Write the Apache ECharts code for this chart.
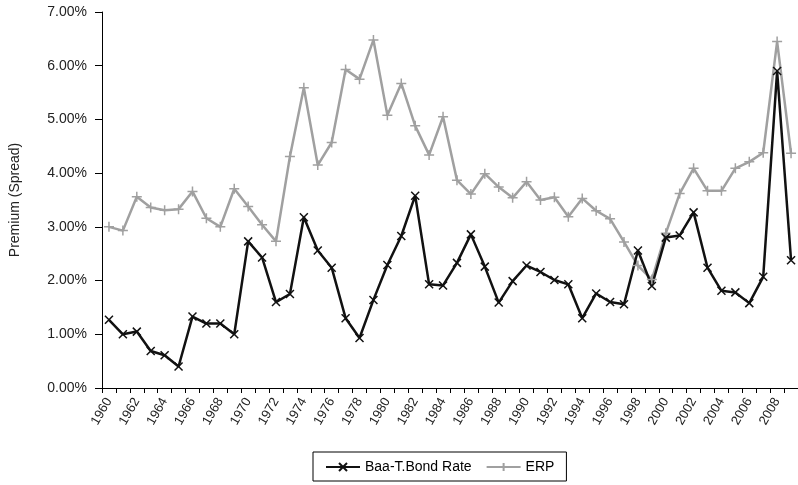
<!DOCTYPE html>
<html>
<head>
<meta charset="utf-8">
<script src="https://cdn.jsdelivr.net/npm/echarts@6/dist/echarts.min.js"></script>
<style>html,body{margin:0;padding:0;background:#fff;}#c{width:798px;height:485px;}</style>
</head>
<body>
<div id="c"></div>
<script>
const years = ['1960','1961','1962','1963','1964','1965','1966','1967','1968','1969',
'1970','1971','1972','1973','1974','1975','1976','1977','1978','1979',
'1980','1981','1982','1983','1984','1985','1986','1987','1988','1989',
'1990','1991','1992','1993','1994','1995','1996','1997','1998','1999',
'2000','2001','2002','2003','2004','2005','2006','2007','2008','2009'];
const baaSpread = [1.27,1.00,1.05,0.69,0.61,0.40,1.33,1.20,1.20,1.00,
2.73,2.43,1.60,1.75,3.18,2.56,2.24,1.30,0.93,1.64,
2.29,2.83,3.58,1.93,1.91,2.33,2.86,2.26,1.59,1.99,
2.28,2.16,2.01,1.93,1.30,1.76,1.60,1.56,2.56,1.90,
2.80,2.84,3.27,2.24,1.81,1.78,1.58,2.07,5.90,2.38];
const erp = [3.00,2.93,3.56,3.36,3.31,3.33,3.66,3.16,3.00,3.71,
3.38,3.04,2.73,4.31,5.59,4.15,4.57,5.93,5.75,6.48,
5.08,5.67,4.88,4.34,5.05,3.87,3.61,3.99,3.74,3.54,
3.84,3.50,3.55,3.19,3.53,3.30,3.15,2.72,2.28,2.02,
2.88,3.62,4.09,3.67,3.67,4.09,4.21,4.38,6.45,4.37];
const yTicks = {min: 0, max: 7, interval: 1};

const chart = echarts.init(document.getElementById('c'));
const xSym = 'path://M0,0L10,10M10,0L0,10';
const pSym = 'path://M5,0L5,10M0,5L10,5';
chart.setOption({
  animation: false,
  textStyle: {fontFamily: 'Liberation Sans, Arial, sans-serif'},
  grid: {left: 94, top: 12, width: 705, height: 376, containLabel: false},
  xAxis: {
    type: 'category', data: years, boundaryGap: true,
    axisLine: {lineStyle: {color: '#000', width: 1}},
    axisTick: {show: true, interval: 0, length: 5, lineStyle: {color: '#000'}},
    axisLabel: {interval: 1, rotate: 60, fontSize: 13, color: '#222', margin: 11}
  },
  yAxis: {
    type: 'value', min: yTicks.min, max: yTicks.max, interval: yTicks.interval,
    name: 'Premium (Spread)', nameLocation: 'middle', nameGap: 80,
    nameTextStyle: {fontSize: 14, color: '#222'},
    axisLine: {show: true, lineStyle: {color: '#000', width: 1}},
    axisTick: {show: true, length: 7, lineStyle: {color: '#000'}},
    splitLine: {show: false},
    axisLabel: {fontSize: 14, color: '#222', margin: 15, formatter: v => v.toFixed(2) + '%'}
  },
  legend: {
    left: 313, top: 452,
    borderColor: '#000', borderWidth: 1, borderRadius: 0,
    padding: [8, 12, 7, 12], itemGap: 14, itemWidth: 34, itemHeight: 10,
    textStyle: {fontSize: 14, color: '#000'},
    data: ['Baa-T.Bond Rate', 'ERP']
  },
  series: [
    {
      name: 'ERP', type: 'line', data: erp,
      lineStyle: {color: '#a0a0a0', width: 2.5},
      symbol: pSym, symbolSize: 10, showAllSymbol: true,
      itemStyle: {color: '#a0a0a0', borderColor: '#a0a0a0', borderWidth: 1.5}
    },
    {
      name: 'Baa-T.Bond Rate', type: 'line', data: baaSpread,
      lineStyle: {color: '#111', width: 2.5},
      symbol: xSym, symbolSize: 8, showAllSymbol: true,
      itemStyle: {color: '#111', borderColor: '#111', borderWidth: 1.5}
    }
  ]
});
</script>
</body>
</html>
